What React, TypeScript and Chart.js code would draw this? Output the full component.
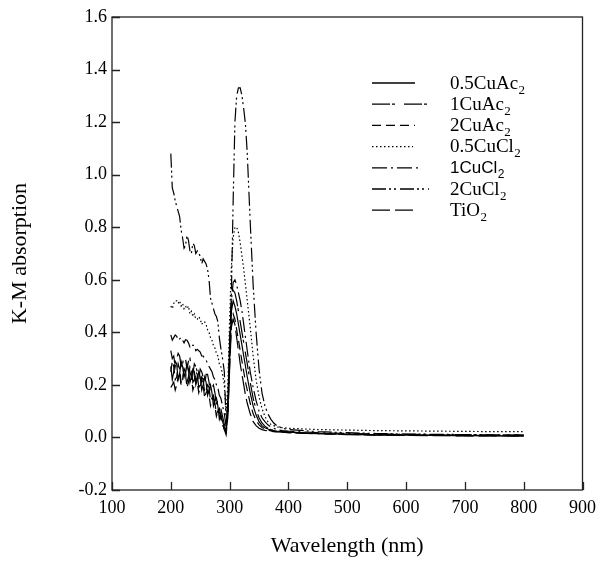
import React, { useEffect, useRef } from 'react';
import { Chart, registerables } from 'chart.js';

Chart.register(...registerables);

// ---------- data ----------
const WAVELENGTHS = [
  200, 202.5, 205, 207.5, 210, 212.5, 215, 217.5, 220, 222.5, 225, 227.5, 230, 232.5, 235, 237.5, 240, 242.5,
  245, 247.5, 250, 252.5, 255, 257.5, 260, 262.5, 265, 267.5, 270, 272.5, 275, 277.5, 280, 282.5, 285,
  288, 291, 294, 297,
  300, 303, 306, 309, 312, 315, 318, 321, 324, 327, 330,
  335, 340, 345, 350, 355, 360, 365, 370, 375, 380,
  390, 400,
  450, 500, 550, 600, 650, 700, 750, 800,
];

const CUAC_05 = [
  0.27, 0.22, 0.25, 0.29, 0.28, 0.22, 0.24, 0.29, 0.27, 0.23, 0.25, 0.28, 0.26, 0.21, 0.23, 0.26, 0.25, 0.2,
  0.22, 0.25, 0.23, 0.18, 0.2, 0.23, 0.21, 0.16, 0.18, 0.2, 0.17, 0.12, 0.14, 0.15, 0.12, 0.07, 0.09,
  0.06, 0.04, 0.02, 0.1,
  0.3, 0.48, 0.52, 0.5, 0.47, 0.43, 0.39, 0.35, 0.31, 0.27, 0.23,
  0.17, 0.12, 0.085, 0.06, 0.045, 0.037, 0.032, 0.028, 0.026, 0.024,
  0.022, 0.02,
  0.015, 0.012, 0.01, 0.009, 0.008, 0.007, 0.006, 0.006,
];

const CUAC_1 = [
  0.33, 0.3, 0.31, 0.27, 0.3, 0.32, 0.31, 0.27, 0.28, 0.31, 0.3, 0.26, 0.29, 0.3, 0.27, 0.24, 0.28, 0.27,
  0.25, 0.22, 0.26, 0.25, 0.23, 0.2, 0.24, 0.24, 0.21, 0.17, 0.19, 0.2, 0.17, 0.13, 0.14, 0.13, 0.11,
  0.08, 0.05, 0.03, 0.14,
  0.36, 0.53, 0.56, 0.55, 0.52, 0.48, 0.44, 0.4, 0.36, 0.32, 0.28,
  0.21, 0.15, 0.105, 0.075, 0.055, 0.043, 0.035, 0.03, 0.027, 0.025,
  0.022, 0.02,
  0.016, 0.013, 0.011, 0.01, 0.009, 0.008, 0.008, 0.007,
];

const CUAC_2 = [
  0.25, 0.29, 0.27, 0.22, 0.23, 0.28, 0.26, 0.21, 0.22, 0.26, 0.24, 0.19, 0.21, 0.25, 0.23, 0.18, 0.2, 0.23,
  0.21, 0.17, 0.19, 0.22, 0.2, 0.15, 0.17, 0.18, 0.16, 0.12, 0.14, 0.15, 0.12, 0.08, 0.1, 0.1, 0.07,
  0.05, 0.03, 0.02, 0.09,
  0.28, 0.44, 0.47, 0.45, 0.41, 0.37, 0.33, 0.29, 0.25, 0.21, 0.18,
  0.13, 0.09, 0.065, 0.048, 0.038, 0.032, 0.028, 0.025, 0.023, 0.022,
  0.02, 0.018,
  0.014, 0.012, 0.01, 0.009, 0.008, 0.007, 0.007, 0.006,
];

const CUCL_05 = [
  0.5, 0.49, 0.51, 0.52, 0.52, 0.51, 0.52, 0.5, 0.51, 0.49, 0.5, 0.49, 0.5, 0.47, 0.48, 0.46, 0.47, 0.45,
  0.45, 0.46, 0.45, 0.43, 0.44, 0.44, 0.43, 0.41, 0.4, 0.38, 0.37, 0.35, 0.34, 0.32, 0.31, 0.28, 0.27,
  0.24, 0.2, 0.1, 0.2,
  0.45, 0.65, 0.76, 0.8, 0.8, 0.78, 0.74, 0.69, 0.64, 0.58, 0.52,
  0.42, 0.31, 0.22, 0.155, 0.11, 0.08, 0.06, 0.05, 0.045, 0.04,
  0.037, 0.035,
  0.03, 0.028, 0.026, 0.025, 0.024, 0.023, 0.022, 0.022,
];

const CUCL_1 = [
  0.39, 0.37, 0.38, 0.39, 0.385, 0.37, 0.375, 0.38, 0.37, 0.36, 0.372, 0.37, 0.36, 0.345, 0.355, 0.35, 0.35, 0.33,
  0.335, 0.33, 0.325, 0.31, 0.31, 0.3, 0.295, 0.28, 0.27, 0.26, 0.25, 0.23, 0.22, 0.2, 0.19, 0.16, 0.15,
  0.12, 0.09, 0.04, 0.12,
  0.35, 0.52, 0.59, 0.6, 0.58, 0.55, 0.52, 0.48, 0.43, 0.38, 0.33,
  0.25, 0.19, 0.14, 0.1, 0.075, 0.06, 0.048, 0.04, 0.035, 0.03,
  0.026, 0.024,
  0.018, 0.015, 0.013, 0.012, 0.011, 0.01, 0.01, 0.009,
];

const CUCL_2 = [
  1.08, 0.95, 0.93, 0.9, 0.88, 0.86, 0.84, 0.79, 0.76, 0.72, 0.73, 0.77, 0.75, 0.71, 0.7, 0.74, 0.73, 0.7,
  0.71, 0.7, 0.69, 0.66, 0.68, 0.67, 0.66, 0.64, 0.6, 0.53, 0.51, 0.49, 0.47, 0.46, 0.44, 0.38, 0.34,
  0.3, 0.25, 0.05, 0.14,
  0.32, 0.55, 0.9, 1.2, 1.3, 1.33, 1.33, 1.3, 1.25, 1.19, 1.08,
  0.82, 0.58, 0.4, 0.26, 0.17, 0.12, 0.09, 0.07, 0.055, 0.045,
  0.035, 0.03,
  0.022, 0.018, 0.015, 0.013, 0.012, 0.011, 0.01, 0.01,
];

const TIO2 = [
  0.19, 0.2, 0.21, 0.18, 0.2, 0.23, 0.24, 0.2, 0.22, 0.26, 0.25, 0.21, 0.23, 0.27, 0.26, 0.21, 0.22, 0.25,
  0.24, 0.19, 0.2, 0.23, 0.22, 0.17, 0.18, 0.2, 0.19, 0.14, 0.15, 0.16, 0.13, 0.09, 0.1, 0.11, 0.08,
  0.05, 0.03, 0.01, 0.08,
  0.26, 0.42, 0.45, 0.43, 0.38, 0.33, 0.28, 0.24, 0.2, 0.16, 0.13,
  0.09, 0.06, 0.045, 0.035, 0.03, 0.027, 0.025, 0.023, 0.022, 0.021,
  0.02, 0.018,
  0.014, 0.011, 0.009, 0.008, 0.007, 0.006, 0.006, 0.005,
];

const SERIES_BASE = ['0.5CuAc', '1CuAc', '2CuAc', '0.5CuCl', '1CuCl', '2CuCl', 'TiO'];
const SERIES_SUB = ['2', '2', '2', '2', '2', '2', '2'];
const SERIES_VALUES = [CUAC_05, CUAC_1, CUAC_2, CUCL_05, CUCL_1, CUCL_2, TIO2];

const X_TICKS = [100, 200, 300, 400, 500, 600, 700, 800, 900];
const Y_TICKS = [-0.2, 0.0, 0.2, 0.4, 0.6, 0.8, 1.0, 1.2, 1.4, 1.6];

// ---------- styles ----------
const DASHES: number[][] = [
  [],
  [18, 2, 3, 9],
  [9, 5],
  [1.5, 2.5],
  [15, 4, 2, 4],
  [14, 3, 2, 3, 2, 4],
  [18, 5],
];
const LEGEND_SAMPLE_LEN = [43, 55, 43, 41, 47, 57, 41];
const LEGEND_SANS = [false, false, false, false, true, false, false];

const SERIF = '"Liberation Serif", "Times New Roman", serif';
const SANS = '"Liberation Sans", Arial, sans-serif';

const frameAndLegend = {
  id: 'frameAndLegend',
  afterDraw(chart: any) {
    const { ctx, chartArea, scales } = chart;
    const { left, right, top, bottom } = chartArea;
    const xs = scales.x;
    const ys = scales.y;
    ctx.save();
    ctx.strokeStyle = '#222';
    ctx.lineWidth = 1.3;
    ctx.setLineDash([]);
    ctx.strokeRect(left, top, right - left, bottom - top);
    ctx.beginPath();
    xs.ticks.forEach((t: any) => {
      const px = Math.round(xs.getPixelForValue(t.value)) + 0.5;
      ctx.moveTo(px, bottom);
      ctx.lineTo(px, bottom - 8);
    });
    ys.ticks.forEach((t: any) => {
      const py = Math.round(ys.getPixelForValue(t.value)) + 0.5;
      ctx.moveTo(left, py);
      ctx.lineTo(left + 8, py);
    });
    ctx.stroke();

    // legend
    chart.data.datasets.forEach((ds: any, i: number) => {
      const yLine = 83 + i * 21.2;
      ctx.beginPath();
      ctx.setLineDash(ds.borderDash || []);
      ctx.lineWidth = 1.3;
      ctx.strokeStyle = '#000';
      ctx.moveTo(372, yLine);
      ctx.lineTo(372 + LEGEND_SAMPLE_LEN[i], yLine);
      ctx.stroke();
      ctx.setLineDash([]);
      const fam = LEGEND_SANS[i] ? SANS : SERIF;
      const size = LEGEND_SANS[i] ? 17 : 19;
      ctx.font = `${size}px ${fam}`;
      ctx.fillStyle = '#000';
      ctx.textAlign = 'left';
      ctx.textBaseline = 'alphabetic';
      const x0 = 450;
      const base = yLine + 5.5;
      ctx.fillText(SERIES_BASE[i], x0, base);
      const w = ctx.measureText(SERIES_BASE[i]).width;
      ctx.font = `${Math.round(size * 0.68)}px ${fam}`;
      ctx.fillText(SERIES_SUB[i], x0 + w + 0.5, base + 5);
    });
    ctx.restore();
  },
};

export default function App() {
  const canvasRef = useRef<HTMLCanvasElement | null>(null);

  useEffect(() => {
    document.body.style.margin = '0';
    const canvas = canvasRef.current;
    if (!canvas) return;
    const datasets = SERIES_VALUES.map((vals, i) => ({
      label: SERIES_BASE[i] + SERIES_SUB[i],
      data: WAVELENGTHS.map((w, j) => ({ x: w, y: vals[j] })),
      borderColor: '#000',
      backgroundColor: '#000',
      borderWidth: 1.2,
      borderDash: DASHES[i],
      pointRadius: 0,
      tension: 0,
      fill: false,
    }));
    const chart = new Chart(canvas, {
      type: 'line',
      data: { datasets },
      options: {
        responsive: false,
        animation: false,
        devicePixelRatio: 1,
        layout: { padding: { top: 17, right: 18, left: 0, bottom: 0 } },
        plugins: { legend: { display: false }, tooltip: { enabled: false } },
        scales: {
          x: {
            type: 'linear',
            min: 100,
            max: 900,
            afterBuildTicks: (s: any) => {
              s.ticks = X_TICKS.map((v) => ({ value: v }));
            },
            afterFit: (s: any) => {
              s.height = 73;
            },
            grid: { display: false, drawTicks: false },
            border: { display: false },
            ticks: {
              padding: 7,
              color: '#000',
              font: { family: SERIF, size: 18 },
              maxRotation: 0,
              callback: (v: any) => String(v),
            },
            title: {
              display: true,
              text: 'Wavelength (nm)',
              color: '#000',
              font: { family: SERIF, size: 22 },
              padding: { top: 0, bottom: 4 },
            },
          },
          y: {
            type: 'linear',
            min: -0.2,
            max: 1.6,
            afterBuildTicks: (s: any) => {
              s.ticks = Y_TICKS.map((v) => ({ value: v }));
            },
            afterFit: (s: any) => {
              s.width = 112;
            },
            grid: { display: false, drawTicks: false },
            border: { display: false },
            ticks: {
              padding: 5,
              color: '#000',
              font: { family: SERIF, size: 18 },
              callback: (v: any) => Number(v).toFixed(1),
            },
            title: {
              display: true,
              text: 'K-M absorption',
              color: '#000',
              font: { family: SERIF, size: 22 },
              padding: { top: 7, bottom: 0 },
            },
          },
        },
      },
      plugins: [frameAndLegend],
    });
    return () => chart.destroy();
  }, []);

  return (
    <div style={{ width: 603, height: 563 }}>
      <canvas ref={canvasRef} width={603} height={563} style={{ display: 'block' }} />
    </div>
  );
}
